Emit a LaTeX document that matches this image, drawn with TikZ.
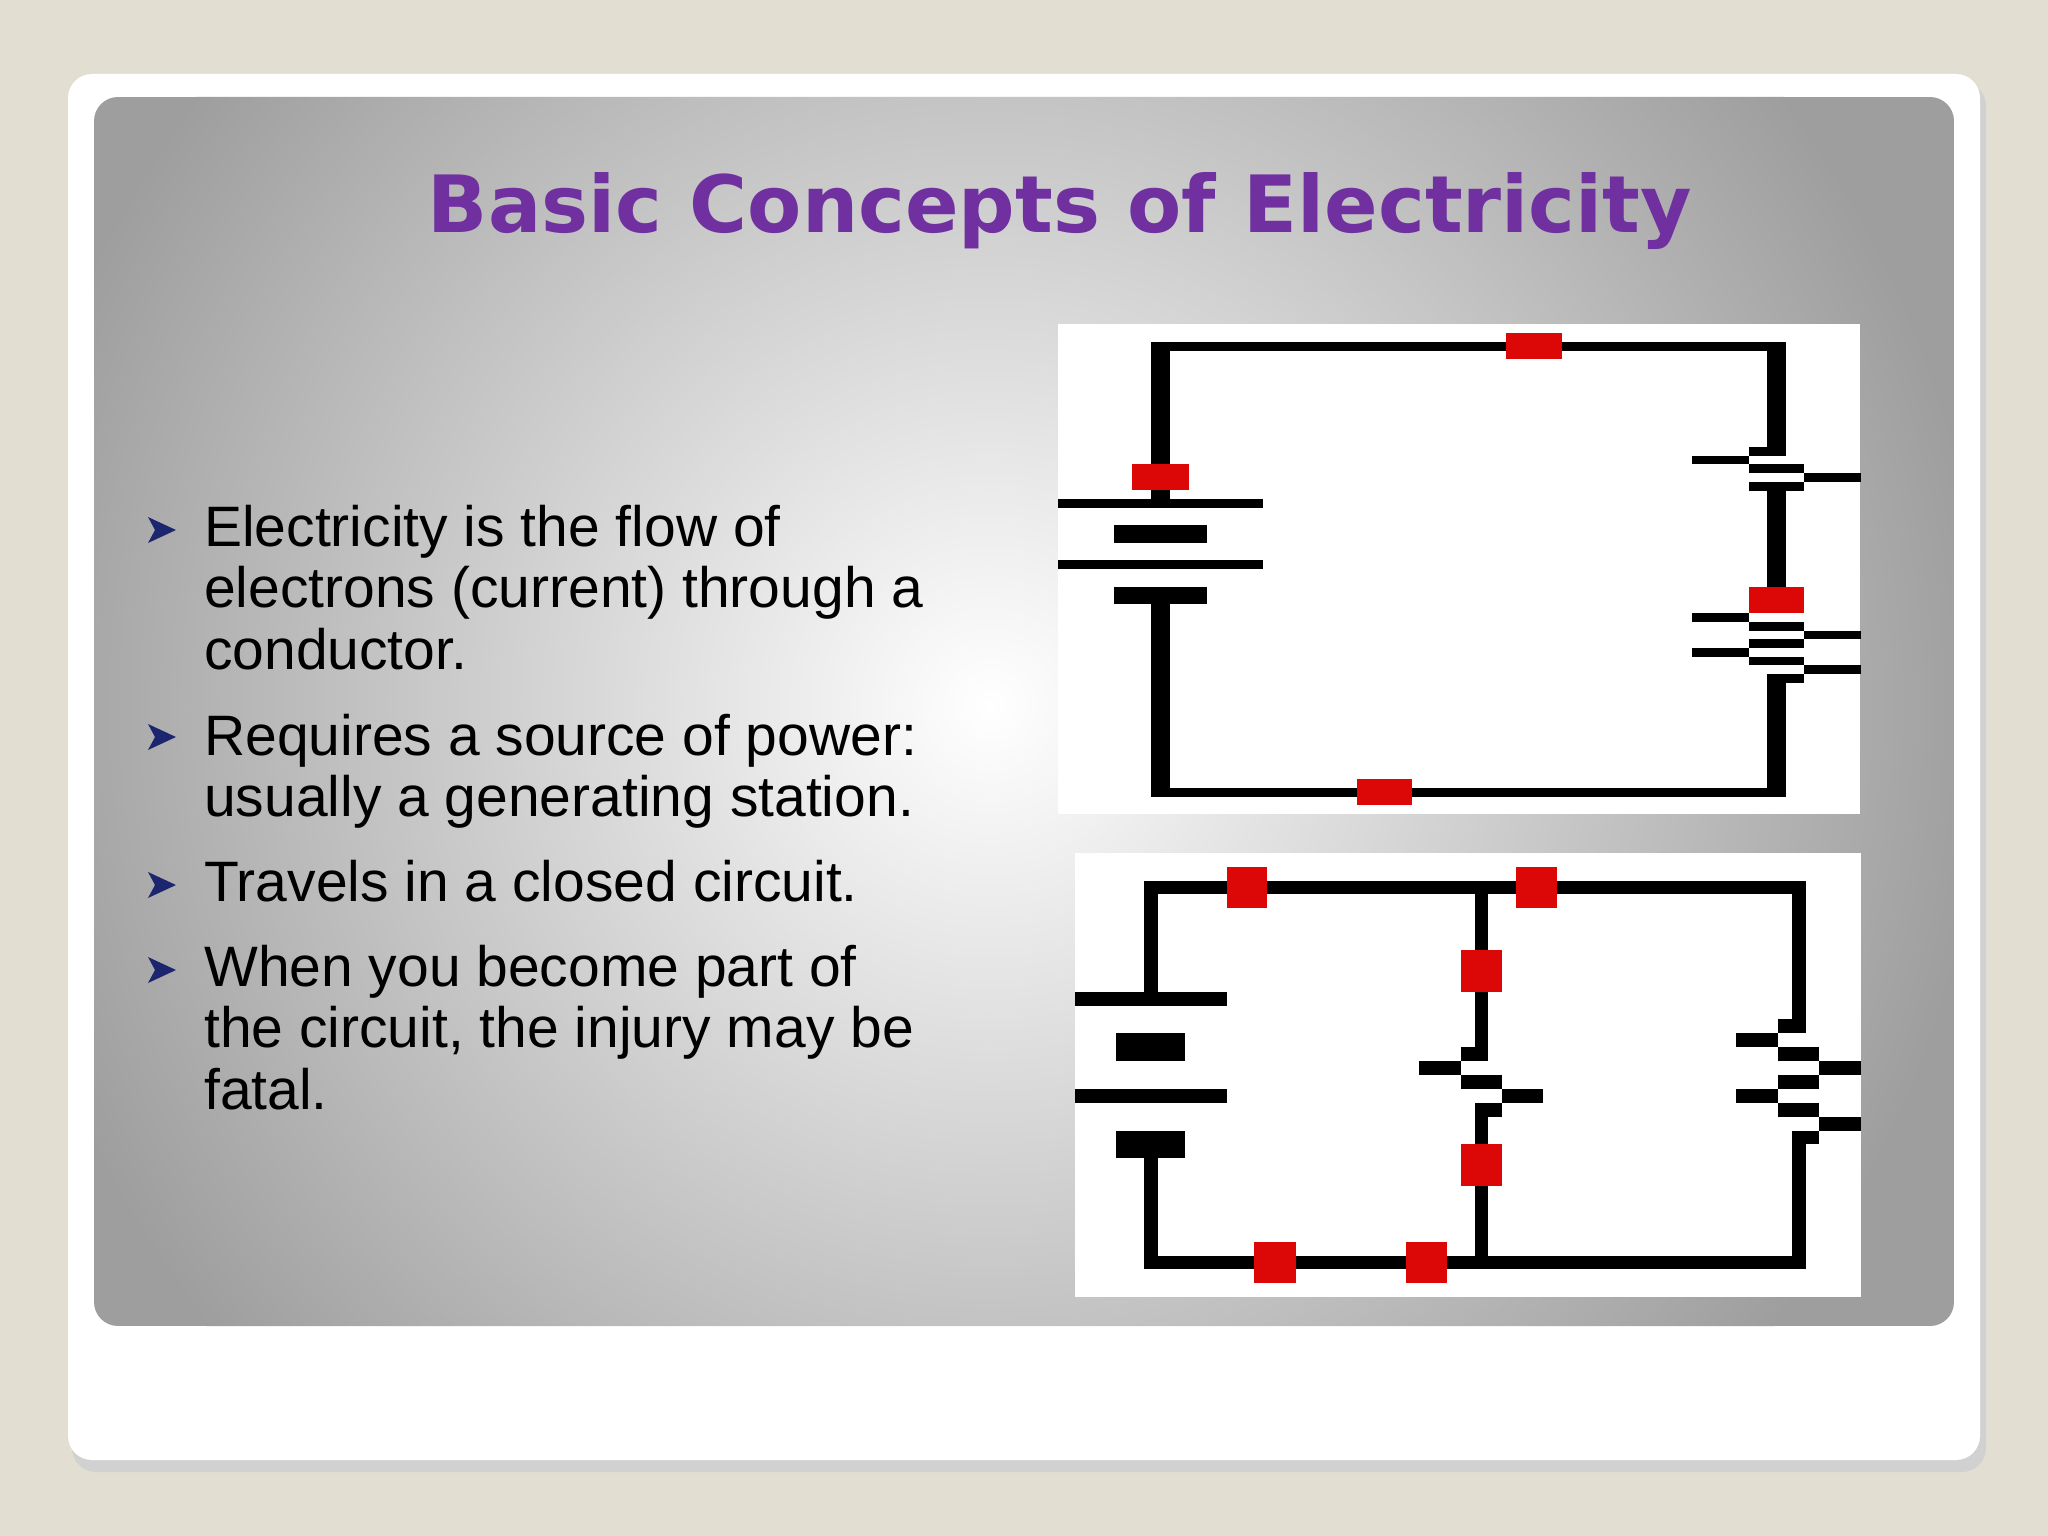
\documentclass[tikz,border=0pt]{standalone}
\usepackage{fontspec}
\setmainfont{Liberation Sans}
\newfontfamily\titlefont{DejaVu Sans}
\definecolor{bgc}{RGB}{226,223,210}
\definecolor{ttl}{RGB}{112,48,160}
\definecolor{navy}{RGB}{28,38,110}
\definecolor{wred}{RGB}{220,8,8}
\definecolor{pgray}{RGB}{158,158,158}
\begin{document}
\begin{tikzpicture}[x=1pt,y=-1pt,
  w/.style={fill=black},
  r/.style={fill=wred},
  btxt/.style={anchor=base west,inner sep=0pt,font=\fontsize{57}{60}\selectfont}]
\useasboundingbox (0,0) rectangle (2048,1536);
\fill[bgc] (0,0) rectangle (2048,1536);
% card shadow
\fill[black!18,rounded corners=24pt] (72,82) rectangle (1986,1472);
\fill[white,rounded corners=24pt] (68,74) rectangle (1980,1460);
% panel
\begin{scope}
\clip[rounded corners=24pt] (94,97) rectangle (1954,1326);
\fill[pgray] (94,97) rectangle (1954,1326);
\shade[inner color=white,outer color=pgray] (990,705) circle (1000);
\end{scope}
% title
\node[text=ttl,font=\titlefont\bfseries\fontsize{79}{80}\selectfont,inner sep=0pt] (title) at (1060,211) {Basic Concepts of Electricity};
% bullets
\foreach \yy in {530,737,885,970}{
  \fill[navy] (148,\yy-13) -- (176,\yy) -- (148,\yy+13) -- (155,\yy) -- cycle;
}
\node[btxt] (l1) at (204,546) {Electricity is the flow of};
\node[btxt] (l2) at (204,607) {electrons (current) through a};
\node[btxt] (l3) at (204,669) {conductor.};
\node[btxt] (l4) at (204,755) {Requires a source of power:};
\node[btxt] (l5) at (204,816) {usually a generating station.};
\node[btxt] (l6) at (204,901) {Travels in a closed circuit.};
\node[btxt] (l7) at (204,986) {When you become part of};
\node[btxt] (l8) at (204,1047) {the circuit, the injury may be};
\node[btxt] (l9) at (204,1109) {fatal.};
% ---------- top circuit ----------
\fill[white] (1058,324) rectangle (1860,814);
\fill[w] (1151,342) rectangle (1786,351);
\fill[w] (1151,342) rectangle (1170,499);
\fill[w] (1767,342) rectangle (1786,455);
\fill[w] (1058,499) rectangle (1263,508);
\fill[w] (1114,525) rectangle (1207,543);
\fill[w] (1058,560) rectangle (1263,569);
\fill[w] (1114,587) rectangle (1207,604);
\fill[w] (1151,604) rectangle (1170,797);
\fill[w] (1151,788) rectangle (1786,797);
\fill[w] (1749,447) rectangle (1786,456);
\fill[w] (1692,456) rectangle (1749,464);
\fill[w] (1749,464) rectangle (1804,473);
\fill[w] (1804,473) rectangle (1861,482);
\fill[w] (1749,482) rectangle (1804,491);
\fill[w] (1767,482) rectangle (1786,587);
\fill[w] (1692,613) rectangle (1749,622);
\fill[w] (1749,622) rectangle (1804,631);
\fill[w] (1804,631) rectangle (1861,639);
\fill[w] (1749,639) rectangle (1804,648);
\fill[w] (1692,648) rectangle (1749,657);
\fill[w] (1749,657) rectangle (1804,665);
\fill[w] (1804,665) rectangle (1861,674);
\fill[w] (1767,674) rectangle (1804,683);
\fill[w] (1767,674) rectangle (1786,797);
\fill[r] (1506,333) rectangle (1562,359);
\fill[r] (1132,464) rectangle (1189,490);
\fill[r] (1749,587) rectangle (1804,613);
\fill[r] (1357,779) rectangle (1412,805);
% ---------- bottom circuit ----------
\fill[white] (1075,853) rectangle (1861,1297);
\fill[w] (1144,881) rectangle (1806,894);
\fill[w] (1144,881) rectangle (1158,997);
\fill[w] (1075,992) rectangle (1227,1006);
\fill[w] (1116,1033) rectangle (1185,1061);
\fill[w] (1075,1089) rectangle (1227,1103);
\fill[w] (1116,1131) rectangle (1185,1158);
\fill[w] (1144,1158) rectangle (1158,1269);
\fill[w] (1144,1256) rectangle (1806,1269);
\fill[w] (1475,881) rectangle (1488,1047);
\fill[w] (1461,1047) rectangle (1488,1061);
\fill[w] (1419,1061) rectangle (1461,1075);
\fill[w] (1461,1075) rectangle (1502,1089);
\fill[w] (1502,1089) rectangle (1543,1103);
\fill[w] (1475,1103) rectangle (1502,1117);
\fill[w] (1475,1103) rectangle (1488,1269);
\fill[w] (1792,881) rectangle (1806,1033);
\fill[w] (1778,1019) rectangle (1806,1033);
\fill[w] (1736,1033) rectangle (1778,1047);
\fill[w] (1778,1047) rectangle (1819,1061);
\fill[w] (1819,1061) rectangle (1861,1075);
\fill[w] (1778,1075) rectangle (1819,1089);
\fill[w] (1736,1089) rectangle (1778,1103);
\fill[w] (1778,1103) rectangle (1819,1117);
\fill[w] (1819,1117) rectangle (1861,1131);
\fill[w] (1792,1131) rectangle (1819,1144);
\fill[w] (1792,1131) rectangle (1806,1269);
\fill[r] (1227,867) rectangle (1267,908);
\fill[r] (1516,867) rectangle (1557,908);
\fill[r] (1461,950) rectangle (1502,992);
\fill[r] (1461,1144) rectangle (1502,1186);
\fill[r] (1254,1242) rectangle (1296,1283);
\fill[r] (1406,1242) rectangle (1447,1283);
\end{tikzpicture}
\end{document}
